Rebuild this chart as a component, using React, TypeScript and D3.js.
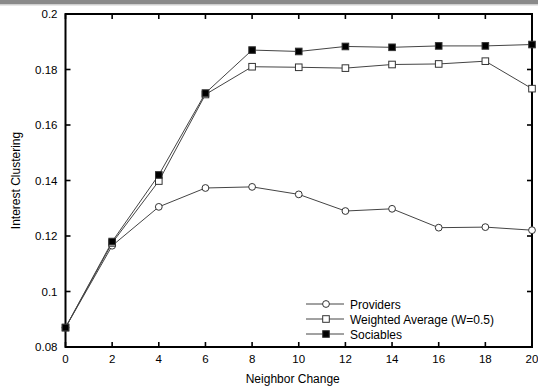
import React, { useRef, useEffect } from "react";
import * as d3 from "d3";

// neighbor change steps on the x axis
const neighborChange = [0, 2, 4, 6, 8, 10, 12, 14, 16, 18, 20];

const providers = [0.087, 0.1165, 0.1305, 0.1373, 0.1377, 0.135, 0.129, 0.1298, 0.123, 0.1232, 0.1221];
const weightedAvg = [0.087, 0.1175, 0.1398, 0.171, 0.181, 0.1808, 0.1805, 0.1818, 0.182, 0.183, 0.1731];
const sociables = [0.087, 0.118, 0.142, 0.1715, 0.187, 0.1865, 0.1883, 0.188, 0.1885, 0.1885, 0.189];

const seriesNames = ["Providers", "Weighted Average (W=0.5)", "Sociables"];
const yTicks = [0.08, 0.1, 0.12, 0.14, 0.16, 0.18, 0.2];
const xTicks = [0, 2, 4, 6, 8, 10, 12, 14, 16, 18, 20];

const W = 538;
const H = 387;
const margin = { top: 14, right: 6, bottom: 40, left: 65.5 };

const App = () => {
    const svgRef = useRef<SVGSVGElement | null>(null);

    useEffect(() => {
        const svg = d3.select(svgRef.current);
        svg.selectAll("*").remove();

        const x = d3.scaleLinear().domain([0, 20]).range([margin.left, W - margin.right]);
        const y = d3.scaleLinear().domain([0.08, 0.2]).range([H - margin.bottom, margin.top]);
        const [x0, x1] = x.range();
        const [yb, yt] = y.range();

        // window-ish gray strip at top
        svg.append("rect").attr("x", 0).attr("y", 0).attr("width", W).attr("height", 4).attr("fill", "#8a8a8a");
        svg.append("rect").attr("x", 0).attr("y", 4).attr("width", W).attr("height", 1.5).attr("fill", "#cfcfcf");

        const font = "'Liberation Sans', Arial, sans-serif";
        const tickLen = 5;

        // ticks on all four sides, pointing inward
        const tg = svg.append("g").attr("stroke", "#000").attr("stroke-width", 1.6);
        xTicks.forEach(t => {
            tg.append("line").attr("x1", x(t)).attr("x2", x(t)).attr("y1", yb).attr("y2", yb - tickLen);
            tg.append("line").attr("x1", x(t)).attr("x2", x(t)).attr("y1", yt).attr("y2", yt + tickLen);
        });
        yTicks.forEach(t => {
            tg.append("line").attr("x1", x0).attr("x2", x0 + tickLen).attr("y1", y(t)).attr("y2", y(t));
            tg.append("line").attr("x1", x1).attr("x2", x1 - tickLen).attr("y1", y(t)).attr("y2", y(t));
        });

        svg.append("rect")
            .attr("x", x0).attr("y", yt)
            .attr("width", x1 - x0).attr("height", yb - yt)
            .attr("fill", "none").attr("stroke", "#000").attr("stroke-width", 2);

        // tick labels
        svg.append("g").selectAll("text").data(xTicks).join("text")
            .attr("x", d => x(d)).attr("y", yb + 16)
            .attr("text-anchor", "middle")
            .attr("font-family", font).attr("font-size", 11.5)
            .text(d => d);
        svg.append("g").selectAll("text").data(yTicks).join("text")
            .attr("x", x0 - 8).attr("y", d => y(d) + 4)
            .attr("text-anchor", "end")
            .attr("font-family", font).attr("font-size", 11.5)
            .text(d => d3.format("~g")(d));

        // axis titles
        svg.append("text")
            .attr("x", (x0 + x1) / 2 - 6).attr("y", 383)
            .attr("text-anchor", "middle")
            .attr("font-family", font).attr("font-size", 12)
            .text("Neighbor Change");
        svg.append("text")
            .attr("transform", `translate(20,${(yt + yb) / 2}) rotate(-90)`)
            .attr("text-anchor", "middle")
            .attr("font-family", font).attr("font-size", 12)
            .text("Interest Clustering");

        const line = d3.line<number>()
            .x((_, i) => x(neighborChange[i]))
            .y(d => y(d));

        const all = [providers, weightedAvg, sociables];
        all.forEach(vals => {
            svg.append("path")
                .attr("d", line(vals))
                .attr("fill", "none")
                .attr("stroke", "#444")
                .attr("stroke-width", 1);
        });

        const drawMarker = (g: any, kind: number, cx: number, cy: number) => {
            if (kind === 0) {
                g.append("circle").attr("cx", cx).attr("cy", cy).attr("r", 3.4)
                    .attr("fill", "#fff").attr("stroke", "#333").attr("stroke-width", 1);
            } else {
                g.append("rect").attr("x", cx - 3.3).attr("y", cy - 3.3)
                    .attr("width", 6.6).attr("height", 6.6)
                    .attr("fill", kind === 2 ? "#000" : "#fff")
                    .attr("stroke", "#333").attr("stroke-width", 1);
            }
        };

        all.forEach((vals, k) => {
            const g = svg.append("g");
            vals.forEach((v, i) => drawMarker(g, k, x(neighborChange[i]), y(v)));
        });

        // legend
        const lg = svg.append("g");
        seriesNames.forEach((name, k) => {
            const ly = 304 + k * 15;
            lg.append("line").attr("x1", 306).attr("x2", 344).attr("y1", ly).attr("y2", ly)
                .attr("stroke", "#444").attr("stroke-width", 1);
            drawMarker(lg, k, 326, ly);
            lg.append("text").attr("x", 350).attr("y", ly + 4.5)
                .attr("font-family", font).attr("font-size", 12)
                .text(name);
        });
    }, []);

    return (
        <svg ref={svgRef} width={W} height={H}
            style={{ position: "absolute", left: 0, top: 0, background: "#fff" }} />
    );
};

export default App;
